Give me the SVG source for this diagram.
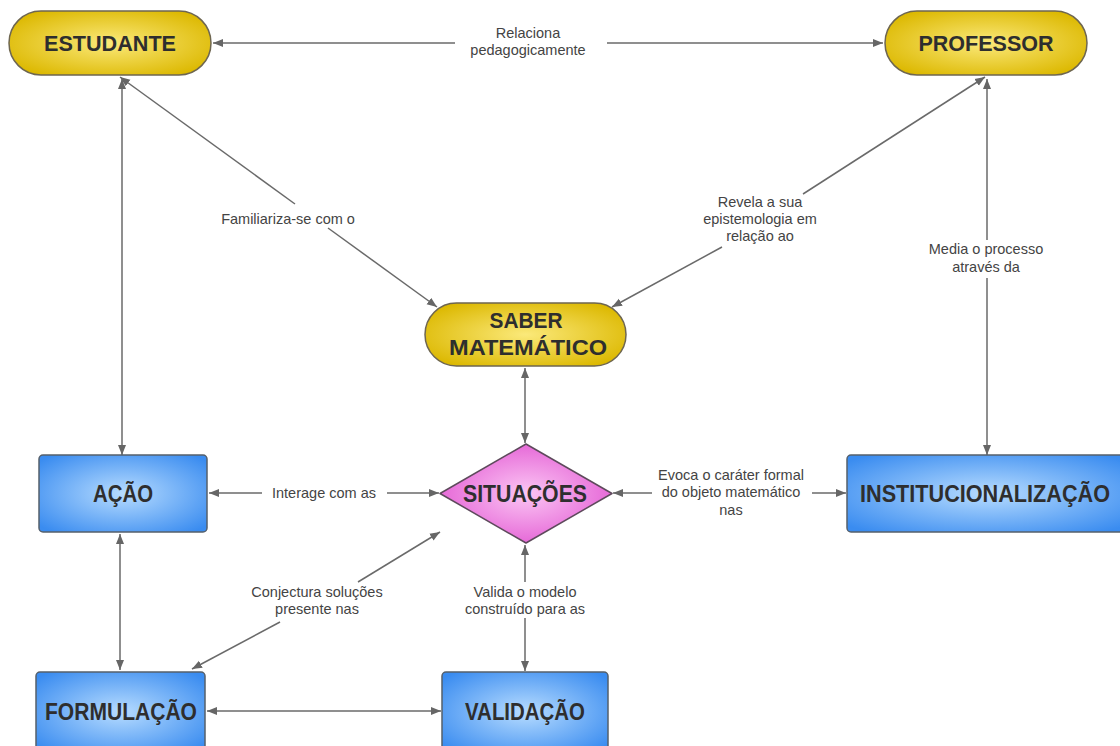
<svg xmlns="http://www.w3.org/2000/svg" width="1120" height="746" viewBox="0 0 1120 746">
<defs>
<radialGradient id="gy" cx="50%" cy="50%" r="60%"><stop offset="0" stop-color="#fbe97a"/><stop offset="1" stop-color="#dcb800"/></radialGradient>
<radialGradient id="gp" cx="50%" cy="50%" r="60%"><stop offset="0" stop-color="#fbc6f4"/><stop offset="1" stop-color="#e257d2"/></radialGradient>
<radialGradient id="gb" cx="50%" cy="50%" r="65%"><stop offset="0" stop-color="#b7dcff"/><stop offset="1" stop-color="#3a8cf0"/></radialGradient>
<marker id="ah" viewBox="0 0 10 10" refX="10" refY="5" markerWidth="10" markerHeight="10" markerUnits="userSpaceOnUse" orient="auto-start-reverse"><path d="M0,1 L10,5 L0,9 Z" fill="#666"/></marker>
<style>
.edge{stroke:#6a6a6a;stroke-width:1.5;fill:none}
.lbl{font-family:"Liberation Sans",Arial,sans-serif;font-size:14.5px;fill:#444;text-anchor:middle}
.nt{font-family:"Liberation Sans",Arial,sans-serif;font-weight:bold;fill:#2e2e2e;text-anchor:middle}
.yel{fill:url(#gy);stroke:#6e6650;stroke-width:1.5}
.pnk{fill:url(#gp);stroke:#5e4a5c;stroke-width:1.5}
.blu{fill:url(#gb);stroke:#56606b;stroke-width:1.5}
</style>
</defs>
<rect width="1120" height="746" fill="#fff"/>
<g id="connectors">
<line class="edge" x1="213" y1="43" x2="455" y2="43" marker-start="url(#ah)"/>
<line class="edge" x1="607" y1="43" x2="883" y2="43" marker-end="url(#ah)"/>
<line class="edge" x1="120" y1="77" x2="295" y2="204" marker-start="url(#ah)"/>
<line class="edge" x1="328" y1="228" x2="437" y2="307" marker-end="url(#ah)"/>
<line class="edge" x1="985" y1="77" x2="803" y2="194" marker-start="url(#ah)"/>
<line class="edge" x1="722" y1="247" x2="612" y2="307" marker-end="url(#ah)"/>
<line class="edge" x1="122" y1="455" x2="122" y2="79" marker-start="url(#ah)" marker-end="url(#ah)"/>
<line class="edge" x1="987" y1="79" x2="987" y2="240" marker-start="url(#ah)"/>
<line class="edge" x1="987" y1="278" x2="987" y2="455" marker-end="url(#ah)"/>
<line class="edge" x1="525" y1="368" x2="525" y2="443" marker-start="url(#ah)" marker-end="url(#ah)"/>
<line class="edge" x1="209" y1="493" x2="262" y2="493" marker-start="url(#ah)"/>
<line class="edge" x1="387" y1="493" x2="439" y2="493" marker-end="url(#ah)"/>
<line class="edge" x1="613" y1="493" x2="652" y2="493" marker-start="url(#ah)"/>
<line class="edge" x1="812" y1="493" x2="846" y2="493" marker-end="url(#ah)"/>
<line class="edge" x1="120" y1="534" x2="120" y2="670" marker-start="url(#ah)" marker-end="url(#ah)"/>
<line class="edge" x1="440" y1="532" x2="358" y2="582" marker-start="url(#ah)"/>
<line class="edge" x1="280" y1="622" x2="192" y2="669" marker-end="url(#ah)"/>
<line class="edge" x1="525" y1="545" x2="525" y2="582" marker-start="url(#ah)"/>
<line class="edge" x1="525" y1="618" x2="525" y2="671" marker-end="url(#ah)"/>
<line class="edge" x1="207" y1="711" x2="441" y2="711" marker-start="url(#ah)" marker-end="url(#ah)"/>
<text class="lbl" x="528" y="38">Relaciona</text>
<text class="lbl" x="528" y="55">pedagogicamente</text>
<text class="lbl" x="288" y="224">Familiariza-se com o</text>
<text class="lbl" x="760" y="207">Revela a sua</text>
<text class="lbl" x="760" y="224">epistemologia em</text>
<text class="lbl" x="760" y="241">relação ao</text>
<text class="lbl" x="986" y="254">Media o processo</text>
<text class="lbl" x="986" y="272">através da</text>
<text class="lbl" x="324" y="498">Interage com as</text>
<text class="lbl" x="731" y="480">Evoca o caráter formal</text>
<text class="lbl" x="731" y="497">do objeto matemático</text>
<text class="lbl" x="731" y="515">nas</text>
<text class="lbl" x="317" y="597">Conjectura soluções</text>
<text class="lbl" x="317" y="614">presente nas</text>
<text class="lbl" x="525" y="597">Valida o modelo</text>
<text class="lbl" x="525" y="614">construído para as</text>
</g>
<g id="estudante">
<rect class="yel" x="9" y="11" width="202" height="64" rx="32" ry="32"/>
<text class="nt" x="110" y="51" font-size="22" textLength="132" lengthAdjust="spacingAndGlyphs">ESTUDANTE</text>
</g>
<g id="professor">
<rect class="yel" x="885" y="11" width="202" height="64" rx="32" ry="32"/>
<text class="nt" x="986" y="51" font-size="22" textLength="135" lengthAdjust="spacingAndGlyphs">PROFESSOR</text>
</g>
<g id="saber">
<rect class="yel" x="425" y="303" width="201" height="63" rx="31.5" ry="31.5"/>
<text class="nt" x="526" y="328" font-size="22" textLength="73" lengthAdjust="spacingAndGlyphs">SABER</text>
<text class="nt" x="528" y="355" font-size="22" textLength="158" lengthAdjust="spacingAndGlyphs">MATEMÁTICO</text>
</g>
<g id="situacoes">
<path class="pnk" d="M526,444 L612,493.5 L526,543 L440,493.5 Z" stroke-linejoin="round"/>
<text class="nt" x="525" y="502" font-size="24" textLength="124" lengthAdjust="spacingAndGlyphs">SITUAÇÕES</text>
</g>
<g id="acao">
<rect class="blu" x="39" y="455" width="168" height="77" rx="4"/>
<text class="nt" x="123" y="502" font-size="24" textLength="60" lengthAdjust="spacingAndGlyphs">AÇÃO</text>
</g>
<g id="institucionalizacao">
<rect class="blu" x="847" y="455" width="280" height="77" rx="4"/>
<text class="nt" x="985" y="502" font-size="24" textLength="250" lengthAdjust="spacingAndGlyphs">INSTITUCIONALIZAÇÃO</text>
</g>
<g id="formulacao">
<rect class="blu" x="36" y="672" width="169" height="80" rx="4"/>
<text class="nt" x="121" y="720" font-size="24" textLength="152" lengthAdjust="spacingAndGlyphs">FORMULAÇÃO</text>
</g>
<g id="validacao">
<rect class="blu" x="442" y="672" width="166" height="80" rx="4"/>
<text class="nt" x="525" y="720" font-size="24" textLength="120" lengthAdjust="spacingAndGlyphs">VALIDAÇÃO</text>
</g>
</svg>
